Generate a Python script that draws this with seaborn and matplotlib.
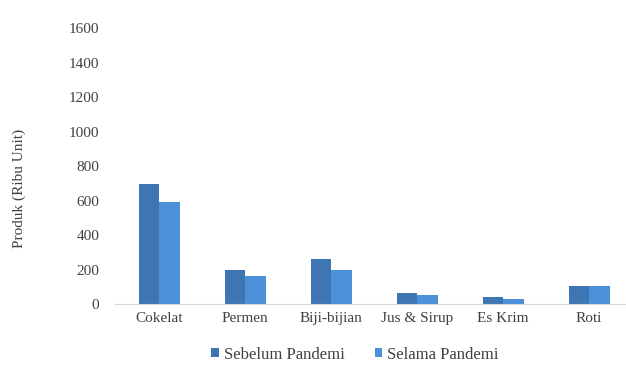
import matplotlib
matplotlib.use("Agg")
import matplotlib.pyplot as plt
import seaborn as sns
import pandas as pd

# data
categories = ["Cokelat", "Permen", "Biji-bijian", "Jus & Sirup", "Es Krim", "Roti"]
sebelum = [695, 195, 262, 62, 42, 103]
selama = [592, 165, 195, 53, 32, 103]
series_names = ["Sebelum Pandemi", "Selama Pandemi"]
yticks = [0, 200, 400, 600, 800, 1000, 1200, 1400, 1600]

df = pd.DataFrame({
    "Kategori": categories * 2,
    "Produk": sebelum + selama,
    "Periode": [series_names[0]] * len(categories) + [series_names[1]] * len(categories),
})

sns.set_style("white")
plt.rcParams["font.family"] = ["Liberation Serif", "DejaVu Serif"]

fig = plt.figure(figsize=(6.26, 3.65), dpi=100)
ax = fig.add_axes([0.183, 0.167, 0.82, 0.755])

palette = {series_names[0]: "#3E76B4", series_names[1]: "#4C90D8"}
sns.barplot(data=df, x="Kategori", y="Produk", hue="Periode", palette=palette,
            width=0.48, gap=0, saturation=1, linewidth=0, ax=ax, legend=True)

ax.set_ylim(0, 1600)
ax.set_yticks(yticks)
ax.set_xlim(-0.52, 5.45)
ax.set_xlabel("")
ax.set_ylabel("Produk (Ribu Unit)", fontsize=11, color="#404040")
ax.yaxis.set_label_coords(-0.172, 0.42)
ax.tick_params(axis="both", labelsize=11, colors="#404040", length=0)
ax.tick_params(axis="y", pad=11)
ax.tick_params(axis="x", pad=6)
for s in ["top", "right", "left"]:
    ax.spines[s].set_visible(False)
ax.spines["bottom"].set_color("#D9D9D9")
ax.spines["bottom"].set_linewidth(0.8)

ax.get_legend().remove()
handles, labels = ax.get_legend_handles_labels()
fig.legend(handles, labels, loc="center", bbox_to_anchor=(0.567, 0.028), ncol=2,
           frameon=False, fontsize=12, handlelength=0.45, handleheight=0.45,
           handletextpad=0.3, columnspacing=1.8, labelcolor="#404040")

fig.savefig("out.png", dpi=100)
